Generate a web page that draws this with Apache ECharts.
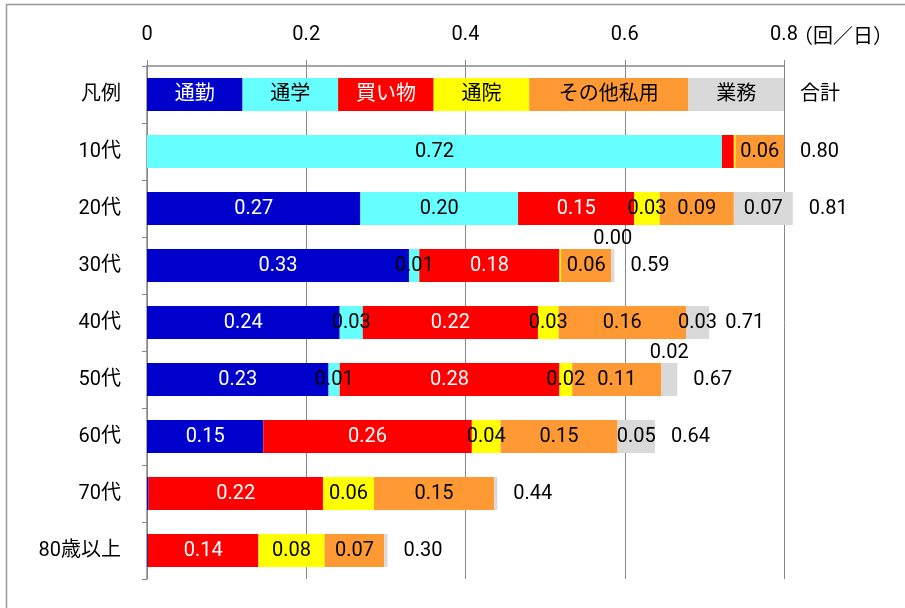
<!DOCTYPE html>
<html>
<head>
<meta charset="utf-8">
<script src="https://cdn.jsdelivr.net/npm/echarts@6/dist/echarts.min.js"></script>
<style>
html,body{margin:0;padding:0;background:#fff;}
#chart{width:905px;height:608px;}
</style>
</head>
<body>
<div id="chart"></div>
<script>
// ---- data ----
const categories = ['凡例', '10代', '20代', '30代', '40代', '50代', '60代', '70代', '80歳以上'];
const seriesNames = ['通勤', '通学', '買い物', '通院', 'その他私用', '業務'];
const legendWidths = [0.12, 0.12, 0.12, 0.12, 0.20, 0.12];
const commute    = [0,     0.268, 0.329, 0.242, 0.228, 0.146, 0.002, 0.001];
const school     = [0.722, 0.198, 0.013, 0.029, 0.014, 0,     0,     0];
const shopping   = [0.015, 0.146, 0.176, 0.220, 0.276, 0.262, 0.219, 0.139];
const hospital   = [0.002, 0.032, 0.002, 0.026, 0.016, 0.036, 0.064, 0.083];
const privateUse = [0.061, 0.093, 0.063, 0.160, 0.112, 0.147, 0.151, 0.075];
const business   = [0,     0.074, 0.004, 0.029, 0.020, 0.047, 0.004, 0.004];
const totals     = [0.80, 0.81, 0.59, 0.71, 0.67, 0.64, 0.44, 0.30];
const xTicks = ['0', '0.2', '0.4', '0.6', '0.8'];
const unitText = '（回／日）';

const seriesValues = [commute, school, shopping, hospital, privateUse, business];
const colors = ['#0000CC', '#66FFFF', '#FF0000', '#FFFF00', '#FF9933', '#D9D9D9'];
const textColors = ['#FFFFFF', '#000000', '#FFFFFF', '#000000', '#000000', '#000000'];
const labelsAbove = new Set(['30代-業務', '50代-業務']);
const labelsHidden = new Set(['10代-買い物']);

const FONT = 'Roboto, "Noto Sans CJK JP", sans-serif';
const FS = 20;

function labelFor(i, j, v) {
  const name = seriesNames[i];
  if (j === 0) {
    return { show: true, position: 'inside', formatter: name, color: textColors[i], fontSize: FS, fontFamily: FONT };
  }
  const key = categories[j] + '-' + name;
  if (labelsAbove.has(key)) {
    return { show: true, position: 'top', distance: 0, formatter: v.toFixed(2), color: '#000', fontSize: FS, fontFamily: FONT };
  }
  if (labelsHidden.has(key) || v < 0.01) return { show: false };
  return { show: true, position: 'inside', formatter: v.toFixed(2), color: textColors[i], fontSize: FS, fontFamily: FONT };
}

const series = seriesNames.map((name, i) => ({
  name: name,
  type: 'bar',
  stack: 'total',
  barWidth: 33,
  clip: false,
  itemStyle: { color: colors[i] },
  emphasis: { disabled: true },
  data: [legendWidths[i]].concat(seriesValues[i]).map((v, j) => ({ value: v, label: labelFor(i, j, v) }))
}));

series.push({
  name: '合計',
  type: 'bar',
  stack: 'total',
  barWidth: 33,
  clip: false,
  itemStyle: { color: 'rgba(0,0,0,0)' },
  emphasis: { disabled: true },
  data: categories.map((c, j) => ({
    value: 0,
    label: {
      show: true, position: 'right', distance: 16,
      formatter: j === 0 ? '合計' : totals[j - 1].toFixed(2),
      color: '#000', fontSize: FS, fontFamily: FONT
    }
  }))
});

const chart = echarts.init(document.getElementById('chart'));
chart.setOption({
  animation: false,
  backgroundColor: '#fff',
  textStyle: { fontFamily: FONT },
  grid: { left: 147, right: 121, top: 66, bottom: 29, containLabel: false },
  xAxis: {
    type: 'value',
    position: 'top',
    min: 0, max: 0.8, interval: 0.2,
    axisLine: { show: true, lineStyle: { color: '#888', width: 1.5 } },
    axisTick: { show: true, length: 6, lineStyle: { color: '#888' } },
    axisLabel: {
      margin: 21, fontSize: FS, color: '#000', fontFamily: FONT,
      formatter: function (v) { return xTicks[Math.round(v / 0.2)]; }
    },
    splitLine: { show: true, lineStyle: { color: '#888', width: 1 } }
  },
  yAxis: {
    type: 'category',
    inverse: true,
    data: categories,
    axisLine: { show: true, lineStyle: { color: '#888', width: 1.5 } },
    axisTick: { show: true, length: 5, lineStyle: { color: '#888' } },
    axisLabel: { margin: 26, fontSize: FS, color: '#000', fontFamily: FONT }
  },
  graphic: [{
    type: 'rect',
    silent: true,
    shape: { x: 6.5, y: 4.5, width: 1000, height: 1000 },
    style: { fill: 'none', stroke: '#999', lineWidth: 1.5 }
  }, {
    type: 'text',
    silent: true,
    x: 793, y: 35,
    style: { text: unitText, fill: '#000', font: FS + 'px "Noto Sans CJK JP", sans-serif', verticalAlign: 'middle', align: 'left' }
  }],
  series: series
});
</script>
</body>
</html>
